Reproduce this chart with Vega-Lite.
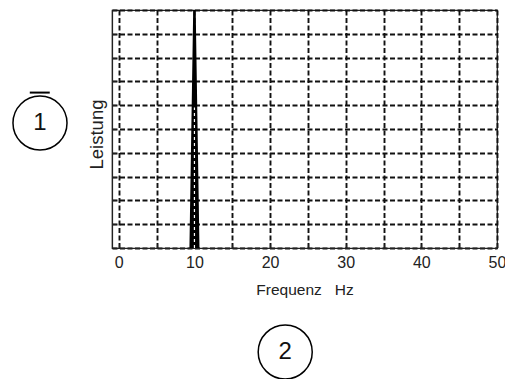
{
  "$schema": "https://vega.github.io/schema/vega-lite/v6.json",
  "width": 385,
  "height": 238,
  "autosize": {"type": "none"},
  "padding": {"left": 112, "top": 10, "right": 8, "bottom": 131},
  "background": "white",
  "config": {
    "view": {"stroke": "#222222", "strokeWidth": 1.2},
    "font": "Liberation Sans",
    "axis": {
      "domainColor": "#222222",
      "domainWidth": 1.2,
      "gridColor": "#111111",
      "gridOpacity": 1,
      "gridWidth": 1.9,
      "gridDash": [5, 2.5],
      "tickColor": "#222222",
      "tickSize": -4,
      "tickWidth": 1.2
    }
  },
  "datasets": {
    "spectrum": [
      {"f": 9.5, "p": 0},
      {"f": 10, "p": 10},
      {"f": 10.5, "p": 0}
    ],
    "inner": [{"f": 10, "p": 0, "p2": 5.9}],
    "markers": [
      {"label": "1", "f": -10.42, "p": 5.25},
      {"label": "2", "f": 22, "p": -4.37}
    ],
    "bar": [{"f": -11.77, "f2": -9.13, "p": 6.53}]
  },
  "encoding": {
    "x": {
      "field": "f",
      "type": "quantitative",
      "scale": {"domain": [-0.9, 50], "nice": false, "zero": false},
      "axis": {
        "values": [0, 5, 10, 15, 20, 25, 30, 35, 40, 45, 50],
        "tickCount": 11,
        "labelExpr": "datum.value % 10 == 0 ? datum.label : ''",
        "grid": true,
        "labelFontSize": 16,
        "labelColor": "#222222",
        "labelPadding": 10,
        "labelFlush": false,
        "labelOverlap": false,
        "title": "Frequenz\u00a0\u00a0\u00a0Hz",
        "titleFontSize": 15.5,
        "titleFontWeight": "normal",
        "titleColor": "#222222",
        "titlePadding": 12
      }
    },
    "y": {
      "field": "p",
      "type": "quantitative",
      "scale": {"domain": [0, 10], "nice": false},
      "axis": {
        "values": [0, 1, 2, 3, 4, 5, 6, 7, 8, 9, 10],
        "tickCount": 11,
        "labels": false,
        "grid": true,
        "title": "Leistung",
        "titleFontSize": 18.5,
        "titleFontWeight": "normal",
        "titleColor": "#222222",
        "titlePadding": 5,
        "titleY": 124
      }
    }
  },
  "layer": [
    {
      "data": {"name": "spectrum"},
      "mark": {"type": "area", "color": "black", "stroke": "black", "strokeWidth": 2.5, "strokeJoin": "miter", "clip": true}
    },
    {
      "data": {"name": "inner"},
      "mark": {"type": "rule", "color": "white", "strokeWidth": 1.2, "strokeDash": [3, 3]},
      "encoding": {
        "y2": {"field": "p2"}
      }
    },
    {
      "data": {"name": "markers"},
      "mark": {"type": "point", "shape": "circle", "size": 2920, "filled": false, "stroke": "black", "strokeWidth": 1.5, "opacity": 1, "clip": false}
    },
    {
      "data": {"name": "markers"},
      "mark": {"type": "text", "fontSize": 24, "color": "#111111", "align": "center", "baseline": "middle", "clip": false},
      "encoding": {
        "text": {"field": "label"}
      }
    },
    {
      "data": {"name": "bar"},
      "mark": {"type": "rule", "color": "black", "strokeWidth": 2, "clip": false},
      "encoding": {
        "x2": {"field": "f2"}
      }
    }
  ]
}
